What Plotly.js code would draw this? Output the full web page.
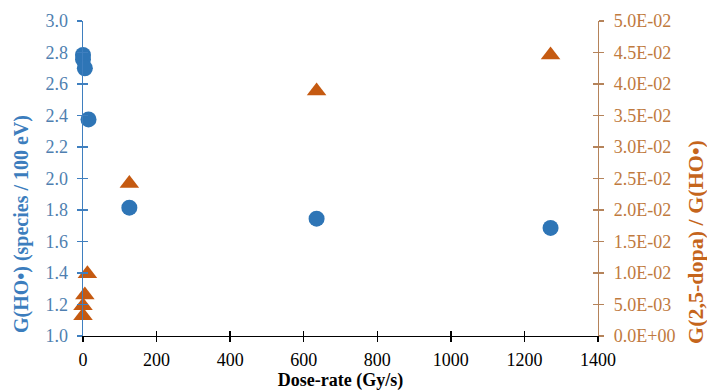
<!DOCTYPE html>
<html><head><meta charset="utf-8">
<script src="https://cdn.plot.ly/plotly-3.0.1.min.js"></script>
<style>body{margin:0;background:#fff}#c{width:707px;height:391px}</style>
</head><body><div id="c"></div>
<script>
const doseHO = [0, 0, 5, 15, 126, 635, 1271];
const gHO = [2.784, 2.757, 2.70, 2.375, 1.815, 1.745, 1.686];
const doseRatio = [0, 0, 5, 12, 126, 635, 1271];
const ratio = [0.0032, 0.0048, 0.0065, 0.0099, 0.0242, 0.0389, 0.0446];
const leftTicks = [1.0,1.2,1.4,1.6,1.8,2.0,2.2,2.4,2.6,2.8,3.0];
const rightTicks = [0,0.005,0.01,0.015,0.02,0.025,0.03,0.035,0.04,0.045,0.05];
const rightLabels = ['0.0E+00','5.0E-03','1.0E-02','1.5E-02','2.0E-02','2.5E-02','3.0E-02','3.5E-02','4.0E-02','4.5E-02','5.0E-02'];
const xTicks = [0,200,400,600,800,1000,1200,1400];
const xTitle = 'Dose-rate (Gy/s)';
const leftTitle = 'G(HO•) (species / 100 eV)';
const rightTitle = 'G(2,5-dopa) / G(HO•)';

const F = 'Liberation Serif';
const FS = 18;
const blue = '#2e75b6', orange = '#c55a11';
const leftLine = '#3f7fbf', rightLine = '#b5835a';

const traces = [
  {x: doseHO, y: gHO, type:'scatter', mode:'markers', xaxis:'x', yaxis:'y',
   marker:{symbol:'circle', size:16, color:blue}, cliponaxis:false},
  {x: doseRatio, y: ratio, type:'scatter', mode:'markers', xaxis:'x', yaxis:'y2',
   marker:{symbol:'triangle-up', size:17, color:orange}, cliponaxis:false},
  {x: [xTicks[0]], y: [leftTicks[0]], xaxis:'x2', yaxis:'y3', type:'scatter', mode:'markers', marker:{opacity:0}},
  {x: [xTicks[0]], y: [rightTicks[0]], xaxis:'x2', yaxis:'y4', type:'scatter', mode:'markers', marker:{opacity:0}}
];

const layout = {
  width:707, height:391,
  margin:{l:83, r:109, t:21, b:55},
  paper_bgcolor:'#fff', plot_bgcolor:'#fff',
  showlegend:false,
  xaxis:{range:[0,1400], tickvals:xTicks, ticktext:xTicks.map(String),
    showgrid:false, zeroline:false, showline:true, linecolor:'#000', linewidth:1.3,
    ticks:'outside', ticklen:5, tickwidth:1.3, tickcolor:'#000', ticklabelstandoff:2,
    tickfont:{family:F, size:FS, color:'#000'}, anchor:'y',
    title:{text:'<b>' + xTitle + '</b>', font:{family:F, size:FS, color:'#000'}, standoff:3}},
  xaxis2:{range:[0,1400], tickvals:xTicks, overlaying:'x', anchor:'y3',
    showgrid:false, zeroline:false, showline:false, showticklabels:false,
    ticks:'inside', ticklen:5, tickwidth:1.3, tickcolor:'#000'},
  yaxis:{range:[1.0,3.0], tickvals:leftTicks, ticktext:leftTicks.map(v=>v.toFixed(1)),
    showgrid:false, zeroline:false, showline:true, linecolor:leftLine, linewidth:1.5,
    ticks:'outside', ticklen:5, tickwidth:1.5, tickcolor:leftLine, ticklabelstandoff:5,
    tickfont:{family:F, size:FS, color:'#4f7fb0'}, anchor:'x'},
  yaxis2:{range:[0,0.05], tickvals:rightTicks, ticktext:rightLabels, overlaying:'y', side:'right', anchor:'x',
    showgrid:false, zeroline:false, showline:true, linecolor:rightLine, linewidth:1.2,
    ticks:'outside', ticklen:5, tickwidth:1.2, tickcolor:rightLine, ticklabelstandoff:6,
    tickfont:{family:F, size:FS, color:'#c07a3e'}},
  yaxis3:{range:[1.0,3.0], tickvals:leftTicks, overlaying:'y', anchor:'x2', side:'left',
    showgrid:false, zeroline:false, showline:false, showticklabels:false,
    ticks:'inside', ticklen:5, tickwidth:1.5, tickcolor:leftLine},
  yaxis4:{range:[0,0.05], tickvals:rightTicks, overlaying:'y', anchor:'x2', side:'right',
    showgrid:false, zeroline:false, showline:false, showticklabels:false,
    ticks:'inside', ticklen:5, tickwidth:1.2, tickcolor:rightLine},
  annotations:[
    {text:'<b>' + leftTitle + '</b>', xref:'paper', yref:'paper', x:-0.118, y:0.356,
     xanchor:'center', yanchor:'middle', textangle:-90, showarrow:false,
     font:{family:F, size:20, color:'#3c7dbd'}},
    {text:'<b>' + rightTitle + '</b>', xref:'paper', yref:'paper', x:1.188, y:0.298,
     xanchor:'center', yanchor:'middle', textangle:-90, showarrow:false,
     font:{family:F, size:22, color:'#c5651c'}}
  ]
};
Plotly.newPlot('c', traces, layout, {staticPlot:true, displayModeBar:false});
</script>
</body></html>
